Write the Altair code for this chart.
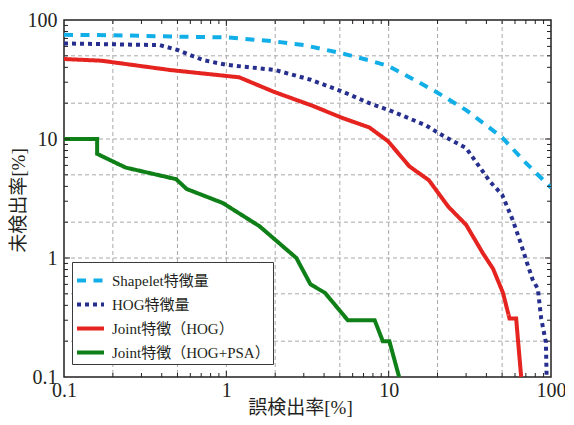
import altair as alt
import pandas as pd

FONT = "Liberation Serif, Noto Sans CJK JP"
TEXT_COLOR = "#231F20"
W, H = 487, 357

series_names = ["Shapelet特徴量", "HOG特徴量", "Joint特徴（HOG）", "Joint特徴（HOG+PSA）"]
series_colors = ["#12AEE8", "#262F8E", "#E5231F", "#0F7F17"]
series_dashes = [[9, 7.5], [4, 4], [1, 0], [1, 0]]

shapelet_x = [0.1, 0.2, 0.5, 1, 2, 3, 5, 7.5, 10, 15, 20, 30, 50, 70, 100]
shapelet_y = [75, 74.5, 72.5, 71.5, 66, 61.5, 53, 46, 41, 30.5, 24.5, 17.5, 10.3, 6.3, 3.9]

hog_x = [0.1, 0.2, 0.39, 0.5, 0.72, 1, 2, 3.3, 5.2, 7.6, 10.6, 17, 22, 30, 42, 50, 58, 65, 71, 77, 83, 87, 93, 94]
hog_y = [63.5, 62.5, 61.5, 56, 46, 42, 38, 31.5, 25, 20, 17, 13, 10.5, 8.4, 4.4, 3.4, 2.1, 1.34, 0.92, 0.66, 0.55, 0.31, 0.196, 0.1]

joint_x = [0.1, 0.17, 0.45, 1.2, 1.95, 3.4, 5.2, 7.6, 9.9, 13.4, 17.7, 23.3, 30, 38, 44, 50.6, 55.5, 61, 65.5]
joint_y = [47, 45.5, 38, 33, 25, 19, 15, 12.5, 9.6, 5.9, 4.5, 2.7, 1.9, 1.1, 0.81, 0.51, 0.31, 0.31, 0.1]

psa_x = [0.1, 0.16, 0.16, 0.24, 0.49, 0.57, 0.95, 1.6, 2.7, 3.3, 4.05, 5.6, 8.2, 9.2, 10.1, 11.6]
psa_y = [10, 10, 7.5, 5.75, 4.6, 3.8, 2.9, 1.85, 1.0, 0.6, 0.51, 0.3, 0.3, 0.2, 0.2, 0.1]

label_values = [0.1, 1, 10, 100]
grid_values = [0.2, 0.5, 1, 2, 5, 10, 20, 50]
major_ticks = [1, 10]
minor_ticks = [0.2, 0.3, 0.4, 0.5, 0.6, 0.7, 0.8, 0.9,
               2, 3, 4, 5, 6, 7, 8, 9,
               20, 30, 40, 50, 60, 70, 80, 90]

rows = []
for name, xs, ys in zip(series_names, [shapelet_x, hog_x, joint_x, psa_x],
                        [shapelet_y, hog_y, joint_y, psa_y]):
    for i, (a, b) in enumerate(zip(xs, ys)):
        rows.append({"series": name, "fpr": a, "miss": b, "i": i})
df = pd.DataFrame(rows)

xscale = alt.Scale(type="log", domain=[0.1, 100], nice=False)
yscale = alt.Scale(type="log", domain=[0.1, 100], nice=False)

xaxis = alt.Axis(values=label_values, format="~g", grid=False, ticks=False, domain=False,
                 labelFont=FONT, labelFontSize=20, labelColor=TEXT_COLOR, labelPadding=3,
                 labelFlush=False, labelOverlap=False,
                 title="誤検出率[%]", titleFont=FONT, titleFontSize=19, titleFontWeight="normal",
                 titleColor=TEXT_COLOR, titleX=236, titleY=30, titleBaseline="middle", titleAlign="center")
yaxis = alt.Axis(values=label_values, format="~g", grid=False, ticks=False, domain=False,
                 labelFont=FONT, labelFontSize=20, labelColor=TEXT_COLOR, labelPadding=7,
                 labelFlush=False, labelOverlap=False,
                 title="未検出率[%]", titleFont=FONT, titleFontSize=19, titleFontWeight="normal",
                 titleColor=TEXT_COLOR, titleX=-46, titleY=180, titleAngle=270,
                 titleBaseline="middle", titleAlign="center")

grid_df = pd.DataFrame({"v": grid_values})
major_df = pd.DataFrame({"v": major_ticks})
minor_df = pd.DataFrame({"v": minor_ticks})

vgrid = alt.Chart(grid_df).mark_rule(color="#A8A8A8", strokeWidth=1, strokeDash=[4, 3]).encode(
    x=alt.X("v:Q", scale=xscale, axis=xaxis), y=alt.value(0), y2=alt.value(H))
hgrid = alt.Chart(grid_df).mark_rule(color="#A8A8A8", strokeWidth=1, strokeDash=[4, 3]).encode(
    y=alt.Y("v:Q", scale=yscale, axis=yaxis), x=alt.value(0), x2=alt.value(W))

legend = alt.Legend(title=None, orient="none", legendX=8, legendY=242, direction="vertical",
                    fillColor="white", strokeColor="#3A3A3A", padding=3,
                    symbolType="stroke", symbolSize=729, symbolStrokeWidth=4,
                    labelFont=FONT, labelFontSize=15, labelColor=TEXT_COLOR,
                    labelOffset=6, rowPadding=0, labelLimit=400)

lines = alt.Chart(df).mark_line(strokeWidth=4, clip=True, strokeCap="butt").encode(
    x=alt.X("fpr:Q", scale=xscale, axis=xaxis),
    y=alt.Y("miss:Q", scale=yscale, axis=yaxis),
    color=alt.Color("series:N", scale=alt.Scale(domain=series_names, range=series_colors), legend=legend),
    strokeDash=alt.StrokeDash("series:N", scale=alt.Scale(domain=series_names, range=series_dashes), legend=legend),
    order=alt.Order("i:Q"),
)

def tick_layers(data, length):
    kw = dict(color=TEXT_COLOR, strokeWidth=1)
    bottom = alt.Chart(data).mark_rule(**kw).encode(
        x=alt.X("v:Q", scale=xscale, axis=xaxis), y=alt.value(H), y2=alt.value(H - length))
    top = alt.Chart(data).mark_rule(**kw).encode(
        x=alt.X("v:Q", scale=xscale, axis=xaxis), y=alt.value(0), y2=alt.value(length))
    left = alt.Chart(data).mark_rule(**kw).encode(
        y=alt.Y("v:Q", scale=yscale, axis=yaxis), x=alt.value(0), x2=alt.value(length))
    right = alt.Chart(data).mark_rule(**kw).encode(
        y=alt.Y("v:Q", scale=yscale, axis=yaxis), x=alt.value(W), x2=alt.value(W - length))
    return [bottom, top, left, right]

layers = [vgrid, hgrid, lines] + tick_layers(major_df, 6) + tick_layers(minor_df, 4)

chart = alt.layer(*layers).properties(
    width=W, height=H,
    autosize=alt.AutoSizeParams(type="none"),
    padding={"left": 56, "top": 12, "right": 14, "bottom": 40},
).configure_view(
    stroke=TEXT_COLOR, strokeWidth=1.5
)

chart.save("out.html", embed_options={"renderer": "svg", "actions": False})
